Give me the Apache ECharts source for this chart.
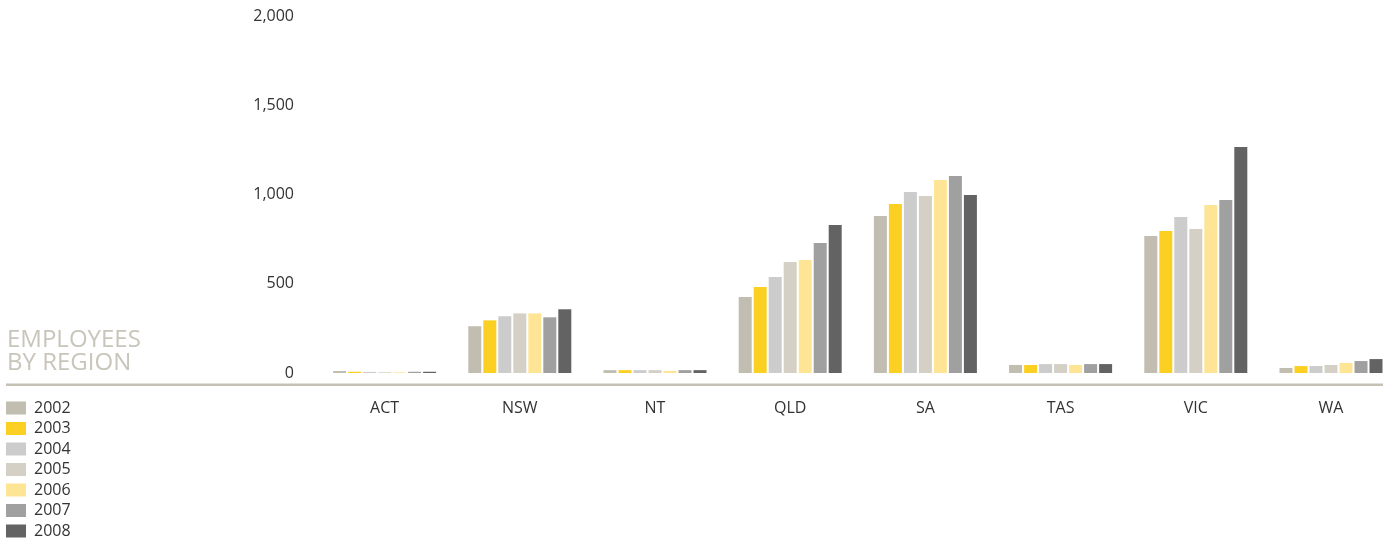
<!DOCTYPE html>
<html>
<head>
<meta charset="utf-8">
<script src="https://cdn.jsdelivr.net/npm/echarts@6/dist/echarts.min.js"></script>
<style>
  html, body { margin: 0; padding: 0; background: #ffffff; }
  #chart { width: 1389px; height: 541px; }
</style>
</head>
<body>
<div id="chart"></div>
<script>
// Employees by region, 2002–2008
const regions = ['ACT', 'NSW', 'NT', 'QLD', 'SA', 'TAS', 'VIC', 'WA'];
const years = ['2002', '2003', '2004', '2005', '2006', '2007', '2008'];

const y2002 = [11, 262, 16, 426, 880, 45, 767, 28];
const y2003 = [7, 295, 16, 482, 947, 45, 795, 39];
const y2004 = [6, 318, 16, 538, 1014, 50, 874, 39];
const y2005 = [4, 334, 16, 622, 992, 50, 807, 45];
const y2006 = [4, 334, 12, 633, 1081, 45, 941, 56];
const y2007 = [7, 312, 16, 728, 1104, 50, 969, 67];
const y2008 = [7, 357, 16, 829, 997, 50, 1266, 78];

const yearValues = [y2002, y2003, y2004, y2005, y2006, y2007, y2008];
const yearColors = ['#c1bdb1', '#fbd023', '#cbcccb', '#d4d0c5', '#fee595', '#9fa09f', '#626362'];

const FONT = '"Open Sans", "Noto Sans", sans-serif';

const chart = echarts.init(document.getElementById('chart'), null, { renderer: 'canvas' });

const series = years.map((y, i) => ({
  name: y,
  type: 'bar',
  data: yearValues[i],
  barWidth: 13,
  barGap: '15.4%',
  itemStyle: { color: yearColors[i] },
  emphasis: { disabled: true }
}));

chart.setOption({
  animation: false,
  backgroundColor: '#ffffff',
  textStyle: { fontFamily: FONT },
  // plot area runs slightly past the right edge of the canvas
  grid: {
    left: 317, top: 16, width: 1081.6, height: 357,
    containLabel: false, outerBoundsMode: 'none'
  },
  xAxis: {
    type: 'category',
    data: regions,
    axisLine: { show: false },
    axisTick: { show: false },
    axisLabel: { color: '#333333', fontSize: 16, fontFamily: FONT, margin: 27 }
  },
  yAxis: {
    type: 'value',
    min: 0,
    max: 2000,
    interval: 500,
    axisLine: { show: false },
    axisTick: { show: false },
    splitLine: { show: false },
    axisLabel: {
      color: '#333333', fontSize: 16, fontFamily: FONT, margin: 23,
      formatter: v => v.toLocaleString('en-US')
    }
  },
  legend: {
    orient: 'vertical',
    left: 6,
    top: 400,
    height: 160,
    padding: 0,
    itemWidth: 20,
    itemHeight: 13,
    itemGap: 4.5,
    icon: 'rect',
    selectedMode: false,
    textStyle: { color: '#333333', fontSize: 16, fontFamily: FONT, padding: [0, 0, 0, 3] },
    data: years
  },
  graphic: [
    {
      type: 'text',
      left: 7,
      top: 328,
      style: {
        text: 'EMPLOYEES\nBY REGION',
        fill: '#c8c5ba',
        font: '400 24px ' + FONT,
        lineHeight: 23
      }
    },
    {
      type: 'rect',
      shape: { x: 6, y: 383.5, width: 1377, height: 2.5 },
      style: { fill: '#c5c1b5' }
    }
  ],
  series: series
});
</script>
</body>
</html>
